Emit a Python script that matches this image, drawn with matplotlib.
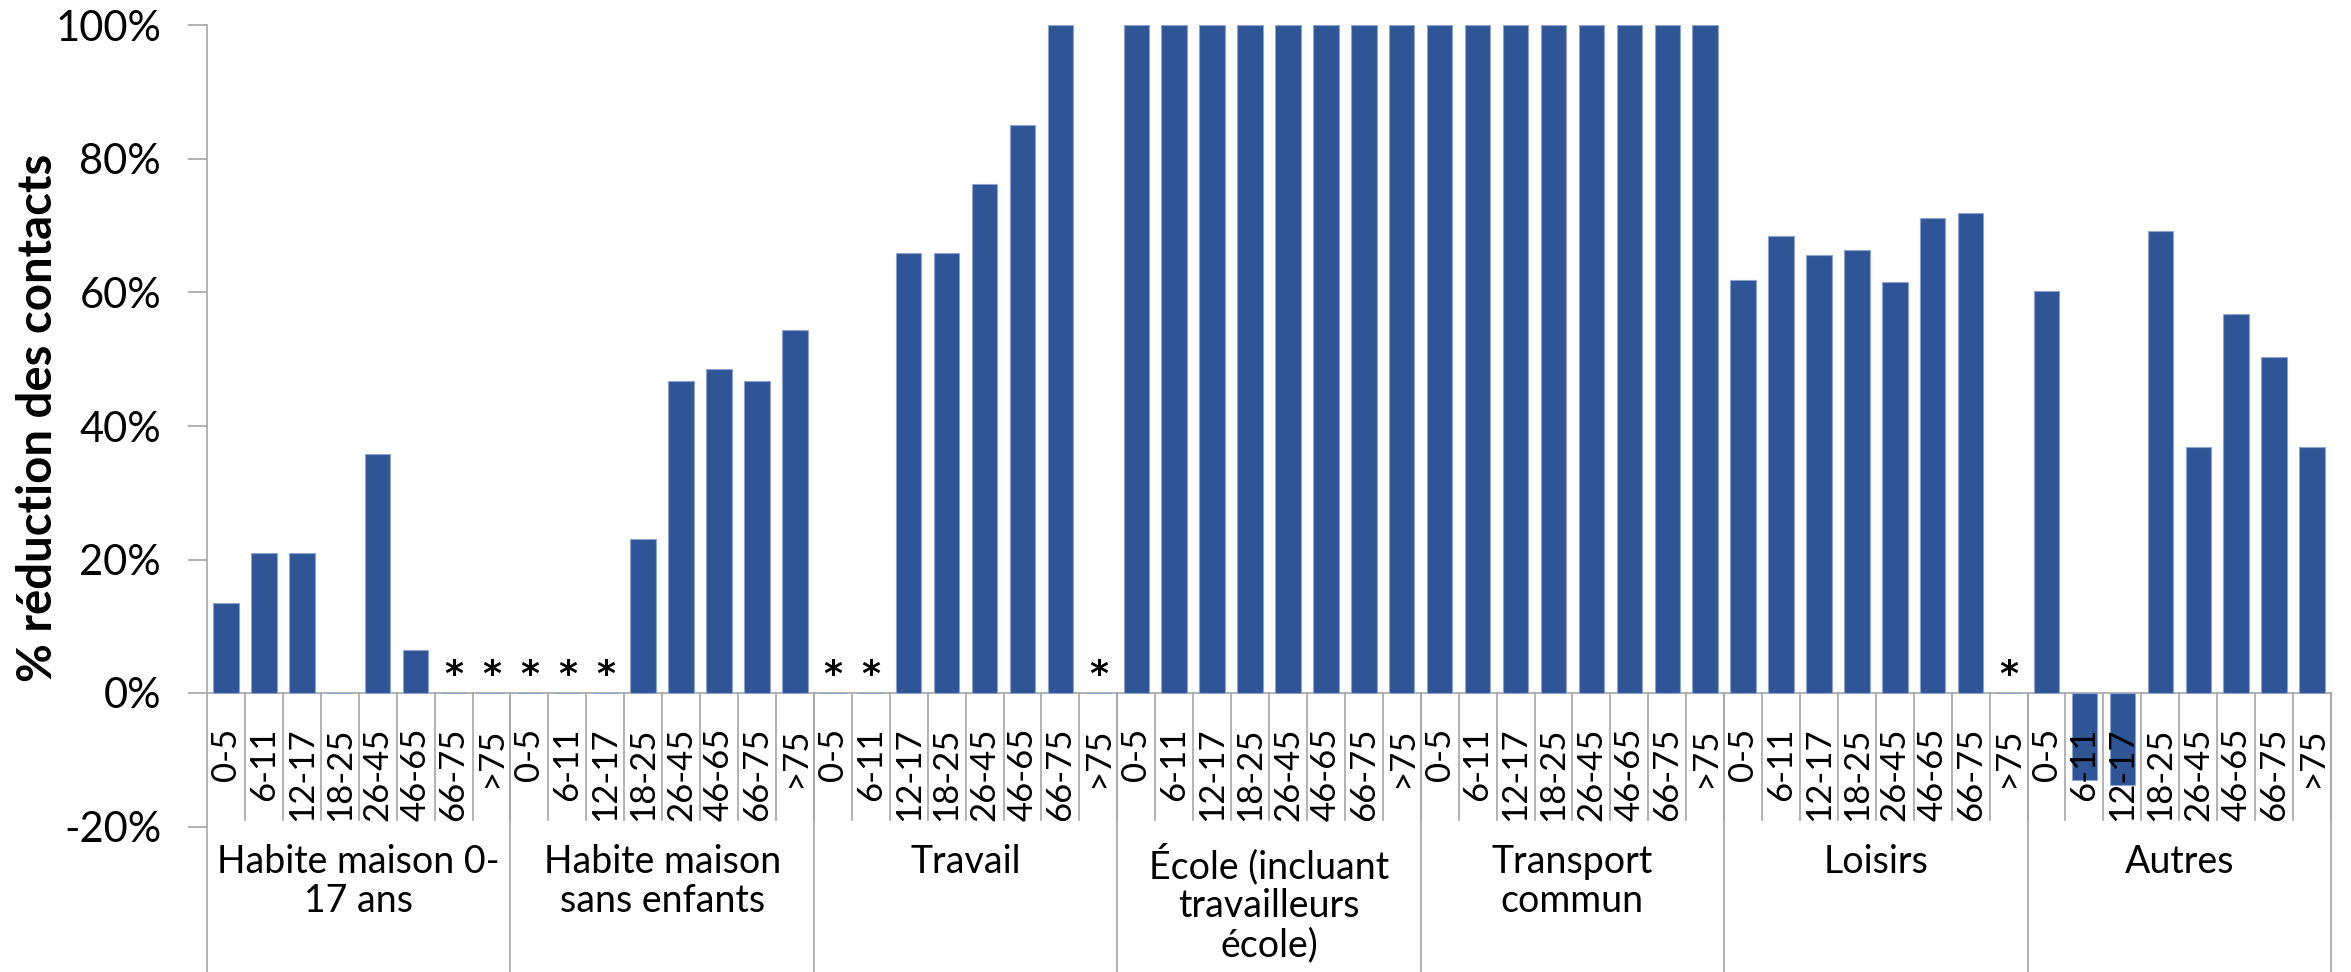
import matplotlib
matplotlib.use("Agg")
from matplotlib import pyplot as plt

plt.rcParams['font.family'] = ['Lato', 'DejaVu Sans']

# ---- données ----
groupes = ['Habite maison 0-\n17 ans', 'Habite maison\nsans enfants', 'Travail',
           'École (incluant\ntravailleurs\nécole)', 'Transport\ncommun', 'Loisirs', 'Autres']
ages = ['0-5', '6-11', '12-17', '18-25', '26-45', '46-65', '66-75', '>75']

# None = donnée non disponible (*)
habite_enfants = [0.135, 0.21, 0.21, 0.0, 0.358, 0.064, None, None]
habite_sans = [None, None, None, 0.231, 0.467, 0.486, 0.467, 0.544]
travail = [None, None, 0.659, 0.659, 0.763, 0.851, 1.0, None]
ecole = [1.0, 1.0, 1.0, 1.0, 1.0, 1.0, 1.0, 1.0]
transport = [1.0, 1.0, 1.0, 1.0, 1.0, 1.0, 1.0, 1.0]
loisirs = [0.618, 0.685, 0.656, 0.663, 0.616, 0.712, 0.719, None]
autres = [0.602, -0.130, -0.138, 0.692, 0.368, 0.568, 0.504, 0.368]

series = [habite_enfants, habite_sans, travail, ecole, transport, loisirs, autres]

couleur = '#2F5597'
gris = '#A6A6A6'

fig = plt.figure(figsize=(23.51, 9.72), dpi=100)
ax = fig.add_axes([207 / 2351, 0.0, 2124 / 2351, 1 - 25.5 / 972])

n = len(ages)
x = []
y = []
etoiles = []
for g, vals in enumerate(series):
    for i, v in enumerate(vals):
        pos = g * n + i
        x.append(pos)
        if v is None:
            y.append(0)
            etoiles.append(pos)
        else:
            y.append(v)

ax.bar(x, y, width=0.67, color=couleur, edgecolor='#8EA4CF', linewidth=0.8, zorder=2)

for pos in etoiles:
    ax.text(pos, 0.002, '*', ha='center', va='bottom', fontsize=26,
            fontweight='bold', family='DejaVu Sans', zorder=3)

ymin = -(972 - 693) / 667.5
ax.set_xlim(-0.5, len(x) - 0.5)
ax.set_ylim(ymin, 1.0)

# axe y
ax.set_yticks([-0.2, 0, 0.2, 0.4, 0.6, 0.8, 1.0])
ax.set_yticklabels(['-20%', '0%', '20%', '40%', '60%', '80%', '100%'], fontsize=30)
ax.tick_params(axis='y', length=14, width=1.2, color=gris, pad=19)
ax.set_xticks([])
ax.set_ylabel('% réduction des contacts', fontsize=34, fontweight='bold')
ax.yaxis.set_label_coords(-0.069, 0.585)

for s in ['top', 'right', 'bottom']:
    ax.spines[s].set_visible(False)
ax.spines['left'].set_color(gris)
ax.spines['left'].set_linewidth(1.2)

# ligne zéro
ax.axhline(0, color=gris, linewidth=1.2, zorder=1)

# étiquettes d'âge et séparateurs
for pos in x:
    ax.text(pos, -0.052, ages[pos % n], rotation=90, ha='center', va='top', fontsize=25, zorder=4)
    ax.plot([pos + 0.5, pos + 0.5], [0, -0.19], color=gris, linewidth=1.2, zorder=1, clip_on=False)

# groupes
for g, nom in enumerate(groupes):
    centre = g * n + (n - 1) / 2
    ax.text(centre, -0.226, nom, ha='center', va='top', fontsize=27, linespacing=1.1)
    ax.plot([g * n + n - 0.5] * 2, [0, ymin], color=gris, linewidth=1.2, clip_on=False)

fig.savefig('out.png', dpi=100)
